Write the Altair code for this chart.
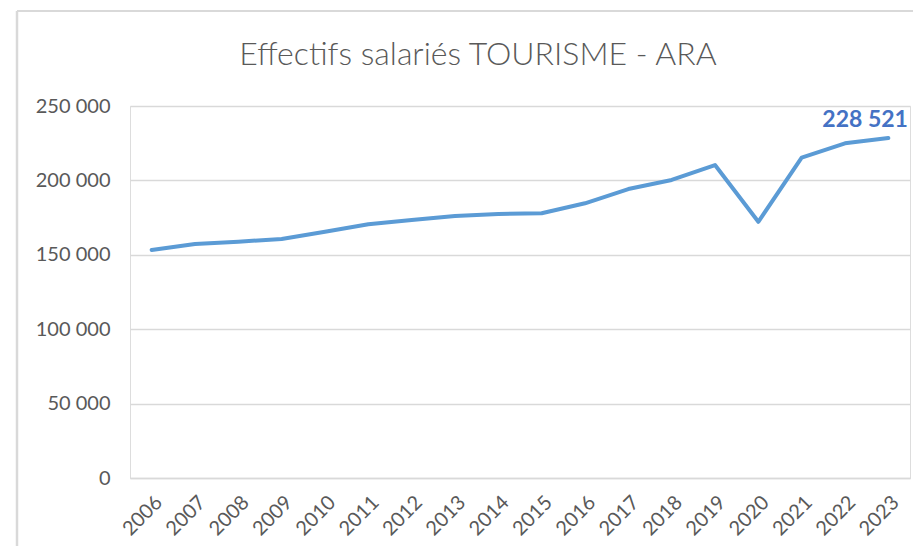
import altair as alt
import pandas as pd

years = ["2006", "2007", "2008", "2009", "2010", "2011", "2012", "2013", "2014",
         "2015", "2016", "2017", "2018", "2019", "2020", "2021", "2022", "2023"]
effectifs = [153200, 157300, 158800, 160600, 165500, 170500, 173400, 176100, 177400,
             177900, 184600, 194200, 200300, 210300, 172200, 215300, 224900, 228521]
y_ticks = [0, 50000, 100000, 150000, 200000, 250000]
last_label = ["228 521"]
title_text = ["Effectifs salariés TOURISME - ARA"]

df = pd.DataFrame({"annee": years, "effectif": effectifs})
df_last = pd.DataFrame({"annee": [years[-1]], "effectif": [effectifs[-1]], "label": last_label})
df_title = pd.DataFrame({"t": title_text})
frame = pd.DataFrame({"a": [0]})

FONT = "Lato"
GREY = "#595959"

x_enc = alt.X("annee:O", sort=years, title=None,
              scale=alt.Scale(type="point", padding=0.5),
              axis=alt.Axis(labelAngle=-45, labelFontSize=20, labelFont=FONT, labelColor=GREY,
                            ticks=False, domain=True, domainColor="#D9D9D9", domainWidth=1.5,
                            labelPadding=14, grid=False))
y_enc = alt.Y("effectif:Q", title=None,
              scale=alt.Scale(domain=[0, 250000], nice=False),
              axis=alt.Axis(values=y_ticks, labelFontSize=20, labelFont=FONT, labelColor=GREY,
                            labelExpr="replace(format(datum.value, ','), ',', ' ')",
                            ticks=False, domain=False, grid=True, gridColor="#D9D9D9",
                            gridWidth=1.5, labelPadding=20))

line = alt.Chart(df).mark_line(color="#5B9BD5", strokeWidth=4, strokeJoin="round",
                               strokeCap="round").encode(x=x_enc, y=y_enc)

label = alt.Chart(df_last).mark_text(font=FONT, fontSize=23, fontWeight="bold", color="#4472C4",
                                     align="left", baseline="alphabetic", dx=-66, dy=-11).encode(
    x=alt.X("annee:O", sort=years), y="effectif:Q", text="label:N")

title = alt.Chart(df_title).mark_text(font=FONT, fontSize=32, fontWeight=300, color=GREY,
                                      align="center", baseline="alphabetic").encode(
    x=alt.value(348), y=alt.value(-41), text="t:N")

border_left = alt.Chart(frame).mark_rule(color="#D9D9D9", strokeWidth=2.5).encode(
    x=alt.value(-113), y=alt.value(-95), y2=alt.value(450))
border_top = alt.Chart(frame).mark_rule(color="#D9D9D9", strokeWidth=2).encode(
    x=alt.value(-113), x2=alt.value(790), y=alt.value(-95))

chart = alt.layer(border_left, border_top, title, line, label).properties(
    width=780, height=372,
    autosize=alt.AutoSizeParams(type="none"),
    padding={"left": 122, "top": 98, "right": 3, "bottom": 68},
).configure_view(stroke=None).configure(background="white")

chart.save("out.html", embed_options={"renderer": "svg", "actions": False})
